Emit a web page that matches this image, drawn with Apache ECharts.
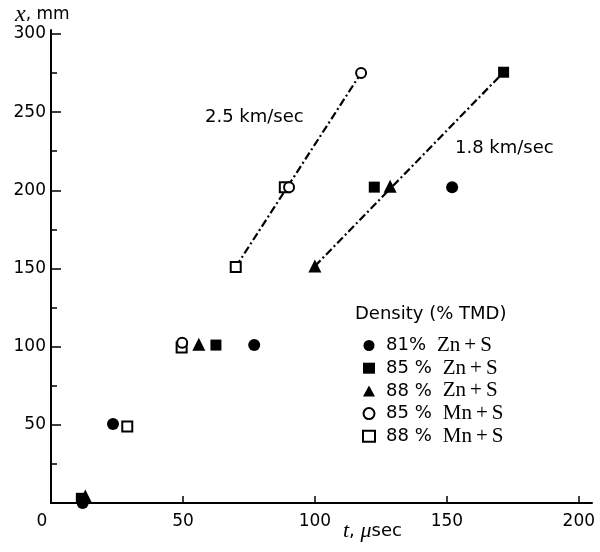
<!DOCTYPE html>
<html><head><meta charset="utf-8">
<script src="https://cdn.jsdelivr.net/npm/echarts@6/dist/echarts.min.js"></script>
<style>html,body{margin:0;padding:0;background:#fff}#c{width:600px;height:552px}</style>
</head><body><div id="c"></div>
<script>
const xTickLabels = [0, 50, 100, 150, 200];
const xTicks = [50, 100, 150, 200];
const yTickLabels = [50, 100, 150, 200, 250, 300];
const yTicks = [0, 50, 100, 150, 200, 250, 300];
const yMinorTicks = [25, 75, 125, 175, 225, 275];
const seriesNames = ['81% Zn+S', '85 % Zn+S', '88 % Zn+S', '85 % Mn+S', '88 % Mn+S'];
const zn81 = [[12, 0], [23.5, 50.5], [77, 101], [152, 202]];
const zn85 = [[11.5, 3], [62.5, 101], [122.5, 202], [171.5, 275.5]];
const zn88 = [[13, 4.5], [56, 101.5], [100, 151.5], [128.5, 202.5]];
const mn85 = [[49.7, 102.5], [90.2, 202], [117.5, 275]];
const mn88 = [[28.9, 49], [49.5, 99.5], [70, 151], [88.6, 202]];
const line25 = [[70, 151], [117.5, 275]];
const line18 = [[100, 151.5], [171.5, 275.5]];

const SANS = 'DejaVu Sans';
const SERIF = 'Liberation Serif';
const chart = echarts.init(document.getElementById('c'), null, {renderer: 'canvas'});

function legendFmt(n) {
  const i = n.lastIndexOf(' ');
  const chem = n.slice(i + 1).split('+');
  return '{a|' + n.slice(0, i) + '}{b|' + chem[0] + '}{p|+}{c|' + chem[1] + '}';
}

const dash = {color: '#000', width: 2.2, type: [8, 3, 2, 3]};

chart.setOption({
  animation: false,
  backgroundColor: '#fff',
  grid: {left: 51, right: 8, top: 30, bottom: 49},
  xAxis: {
    type: 'value', min: 0, max: 205, interval: 50,
    axisLine: {lineStyle: {color: '#000', width: 2}},
    axisTick: {inside: true, length: 7, lineStyle: {color: '#000', width: 1.5}, customValues: xTicks},
    axisLabel: {
      customValues: xTickLabels, margin: 10, color: '#000', fontFamily: SANS, fontSize: 17,
      formatter: v => v === 0 ? '{z|0}' : String(v),
      rich: {z: {padding: [0, 18, 0, 0], fontFamily: SANS, fontSize: 17, color: '#000'}}
    },
    splitLine: {show: false}
  },
  yAxis: [{
    type: 'value', min: 0, max: 302.5, interval: 50,
    axisLine: {lineStyle: {color: '#000', width: 2}},
    axisTick: {inside: true, length: 10, lineStyle: {color: '#000', width: 1.5}, customValues: yTicks},
    axisLabel: {customValues: yTickLabels, margin: 5, color: '#000', fontFamily: SANS, fontSize: 17},
    splitLine: {show: false}
  }, {
    type: 'value', min: 0, max: 302.5, position: 'left', offset: 0,
    axisLine: {show: false},
    axisTick: {show: true, inside: true, length: 6, lineStyle: {color: '#000', width: 1.5}, customValues: yMinorTicks},
    axisLabel: {show: false},
    splitLine: {show: false}
  }],
  legend: {
    data: seriesNames,
    orient: 'vertical', left: 357, top: 330,
    itemWidth: 12, itemHeight: 11, itemGap: 1.7,
    formatter: legendFmt,
    textStyle: {
      color: '#000', lineHeight: 16,
      rich: {
        a: {fontFamily: SANS, fontSize: 18, color: '#000', lineHeight: 16, padding: [0, 0, 0, 6]},
        b: {fontFamily: SERIF, fontSize: 21, color: '#000', padding: [0, 0, 0, 11], lineHeight: 16},
        p: {fontFamily: SERIF, fontSize: 21, color: '#000', padding: [0, 4, 0, 4], lineHeight: 16},
        c: {fontFamily: SERIF, fontSize: 21, color: '#000', lineHeight: 16}
      }
    }
  },
  series: [
    {name: 'l25', type: 'line', data: line25, symbol: 'none', lineStyle: dash, z: 1, silent: true},
    {name: 'l18', type: 'line', data: line18, symbol: 'none', lineStyle: dash, z: 1, silent: true},
    {name: seriesNames[0], type: 'scatter', data: zn81, symbol: 'circle', symbolSize: 12, clip: false,
      itemStyle: {color: '#000', opacity: 1}, z: 3},
    {name: seriesNames[1], type: 'scatter', data: zn85, symbol: 'rect', symbolSize: 11, clip: false,
      itemStyle: {color: '#000', opacity: 1}, z: 3},
    {name: seriesNames[2], type: 'scatter', data: zn88, symbol: 'triangle', symbolSize: 13, clip: false,
      itemStyle: {color: '#000', opacity: 1}, z: 4},
    {name: seriesNames[3], type: 'scatter', data: mn85, symbol: 'emptyCircle', symbolSize: 10, clip: false,
      itemStyle: {color: '#000', borderWidth: 2, opacity: 1}, z: 5},
    {name: seriesNames[4], type: 'scatter', data: mn88, symbol: 'emptyRect', symbolSize: 10, clip: false,
      itemStyle: {color: '#000', borderWidth: 2, opacity: 1}, z: 3}
  ],
  graphic: [
    {type: 'text', left: 15, top: 3, style: {
      text: '{x|x}{s|, mm}',
      rich: {x: {fontFamily: SERIF, fontStyle: 'italic', fontSize: 24, fill: '#000'},
             s: {fontFamily: SANS, fontSize: 17, fill: '#000'}}
    }},
    {type: 'text', left: 343, top: 520, style: {
      text: '{t|t}{s|, }{m|μ}{s|sec}',
      rich: {t: {fontFamily: SERIF, fontStyle: 'italic', fontSize: 22, fill: '#000'},
             m: {fontFamily: SERIF, fontStyle: 'italic', fontSize: 22, fill: '#000'},
             s: {fontFamily: SANS, fontSize: 18, fill: '#000'}}
    }},
    {type: 'text', left: 355, top: 305, style: {text: 'Density (% TMD)', font: '18px "DejaVu Sans"', fill: '#000'}},
    {type: 'text', left: 205, top: 108, style: {text: '2.5 km/sec', font: '18px "DejaVu Sans"', fill: '#000'}},
    {type: 'text', left: 455, top: 139, style: {text: '1.8 km/sec', font: '18px "DejaVu Sans"', fill: '#000'}}
  ]
});
</script></body></html>
